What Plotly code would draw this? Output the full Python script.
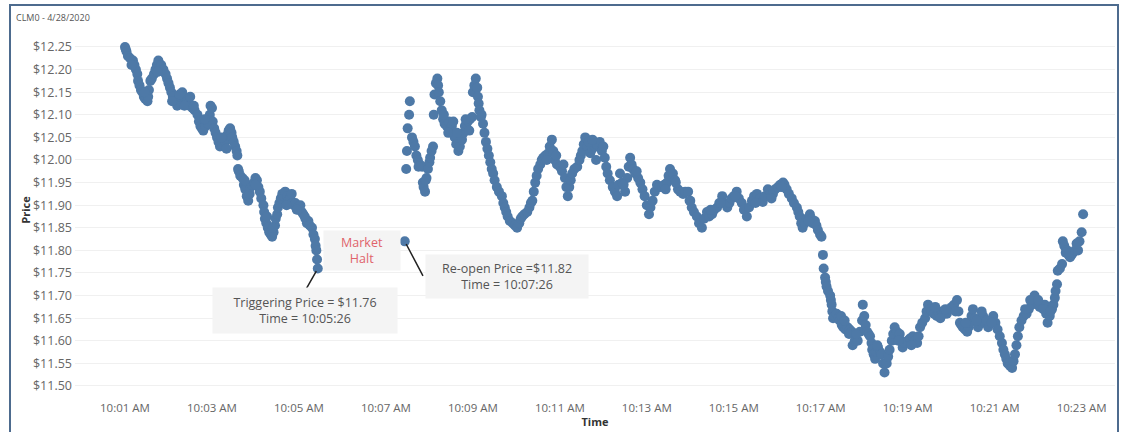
import plotly.graph_objects as go

DATE = "2020-04-28"

# ---- Data (time hh:mm:ss, price $) ----
pre_halt_times = [
    "10:01:00", "10:01:01", "10:01:02", "10:01:04", "10:01:07", "10:01:11", "10:01:13",
    "10:01:15", "10:01:17", "10:01:18", "10:01:20", "10:01:22", "10:01:24", "10:01:26",
    "10:01:28", "10:01:31", "10:01:32", "10:01:33", "10:01:35", "10:01:37", "10:01:40",
    "10:01:42", "10:01:44", "10:01:46", "10:01:48", "10:01:50", "10:01:53", "10:01:56",
    "10:01:58", "10:02:00", "10:02:02", "10:02:04", "10:02:06", "10:02:09", "10:02:12",
    "10:02:14", "10:02:16", "10:02:19", "10:02:21", "10:02:24", "10:02:26", "10:02:29",
    "10:02:33", "10:02:36", "10:02:40", "10:02:42", "10:02:44", "10:02:46", "10:02:48",
    "10:02:51", "10:02:55", "10:02:57", "10:02:58", "10:03:00", "10:03:01", "10:03:03",
    "10:03:05", "10:03:07", "10:03:09", "10:03:11", "10:03:14", "10:03:18", "10:03:21",
    "10:03:23", "10:03:25", "10:03:27", "10:03:28", "10:03:30", "10:03:32", "10:03:34",
    "10:03:35", "10:03:36", "10:03:37", "10:03:39", "10:03:42", "10:03:44", "10:03:46",
    "10:03:48", "10:03:50", "10:03:52", "10:03:53", "10:03:55", "10:03:58", "10:04:00",
    "10:04:02", "10:04:04", "10:04:06", "10:04:08", "10:04:11", "10:04:12", "10:04:13",
    "10:04:15", "10:04:17", "10:04:19", "10:04:21", "10:04:23", "10:04:25", "10:04:27",
    "10:04:28", "10:04:30", "10:04:31", "10:04:33", "10:04:35", "10:04:37", "10:04:39",
    "10:04:41", "10:04:44", "10:04:46", "10:04:48", "10:04:51", "10:04:53", "10:04:55",
    "10:04:58", "10:05:00", "10:05:02", "10:05:04", "10:05:06", "10:05:09", "10:05:11",
    "10:05:13", "10:05:15", "10:05:18", "10:05:20", "10:05:22", "10:05:23", "10:05:24",
    "10:05:25", "10:05:26",
]
pre_halt_prices = [
    12.25, 12.245, 12.24, 12.23, 12.225, 12.22, 12.21,
    12.20, 12.19, 12.175, 12.165, 12.155, 12.15, 12.14,
    12.135, 12.13, 12.14, 12.155, 12.175, 12.18, 12.19,
    12.20, 12.21, 12.22, 12.205, 12.21, 12.20, 12.19,
    12.18, 12.17, 12.16, 12.15, 12.14, 12.13, 12.12,
    12.135, 12.14, 12.15, 12.14, 12.125, 12.13, 12.12,
    12.115, 12.11, 12.10, 12.085, 12.075, 12.07, 12.065,
    12.075, 12.08, 12.10, 12.12, 12.115, 12.085, 12.07,
    12.06, 12.05, 12.04, 12.03, 12.035, 12.04, 12.055,
    12.065, 12.07, 12.06, 12.05, 12.04, 12.03, 12.02,
    12.01, 11.98, 11.975, 11.965, 11.96, 11.945, 11.935,
    11.92, 11.91, 11.925, 11.94, 11.945, 11.95, 11.96,
    11.955, 11.94, 11.93, 11.915, 11.90, 11.885, 11.87,
    11.86, 11.85, 11.84, 11.835, 11.83, 11.84, 11.855,
    11.87, 11.88, 11.895, 11.905, 11.915, 11.925, 11.92,
    11.93, 11.92, 11.91, 11.915, 11.905, 11.90, 11.905,
    11.895, 11.89, 11.90, 11.885, 11.88, 11.87, 11.86,
    11.865, 11.855, 11.85, 11.835, 11.825, 11.81, 11.80,
    11.78, 11.76,
]

post_halt_times = [
    "10:07:26", "10:07:28", "10:07:29", "10:07:30", "10:07:32", "10:07:33", "10:07:36",
    "10:07:38", "10:07:40", "10:07:42", "10:07:44", "10:07:47", "10:07:50", "10:07:51",
    "10:07:52", "10:07:54", "10:07:56", "10:07:58", "10:08:00", "10:08:01", "10:08:03",
    "10:08:05", "10:08:06", "10:08:07", "10:08:09", "10:08:11", "10:08:12", "10:08:13",
    "10:08:15", "10:08:17", "10:08:19", "10:08:21", "10:08:24", "10:08:27", "10:08:29",
    "10:08:31", "10:08:33", "10:08:35", "10:08:37", "10:08:40", "10:08:42", "10:08:45",
    "10:08:47", "10:08:49", "10:08:51", "10:08:53", "10:08:56", "10:08:59", "10:09:00",
    "10:09:02", "10:09:04", "10:09:06", "10:09:07", "10:09:08", "10:09:09", "10:09:11",
    "10:09:14", "10:09:16", "10:09:18", "10:09:20", "10:09:22", "10:09:24", "10:09:26",
    "10:09:28", "10:09:30", "10:09:33", "10:09:36", "10:09:40", "10:09:42", "10:09:44",
    "10:09:46", "10:09:48", "10:09:51", "10:09:55", "10:09:58", "10:10:01", "10:10:04",
    "10:10:06", "10:10:08", "10:10:11", "10:10:15", "10:10:18", "10:10:20", "10:10:22",
    "10:10:24", "10:10:26", "10:10:28", "10:10:30", "10:10:33", "10:10:35", "10:10:37",
    "10:10:40", "10:10:44", "10:10:46", "10:10:49", "10:10:51", "10:10:53", "10:10:56",
    "10:11:00", "10:11:03", "10:11:07", "10:11:09", "10:11:11", "10:11:13", "10:11:15",
    "10:11:17", "10:11:20", "10:11:24", "10:11:27", "10:11:29", "10:11:31", "10:11:33",
    "10:11:35", "10:11:38", "10:11:42", "10:11:45", "10:11:48", "10:11:51", "10:11:55",
    "10:11:58", "10:12:02", "10:12:04", "10:12:06", "10:12:09", "10:12:13", "10:12:16",
    "10:12:19", "10:12:21", "10:12:23", "10:12:26", "10:12:30", "10:12:33", "10:12:35",
    "10:12:37", "10:12:39", "10:12:41", "10:12:44", "10:12:48", "10:12:51", "10:12:54",
    "10:12:57", "10:13:00", "10:13:03", "10:13:05", "10:13:08", "10:13:11", "10:13:14",
    "10:13:17", "10:13:21", "10:13:24", "10:13:28", "10:13:30", "10:13:32", "10:13:36",
    "10:13:39", "10:13:43", "10:13:46", "10:13:50", "10:13:53", "10:13:57", "10:13:59",
    "10:14:02", "10:14:05", "10:14:09", "10:14:12", "10:14:16", "10:14:19", "10:14:23",
    "10:14:26", "10:14:30", "10:14:33", "10:14:37", "10:14:40", "10:14:44", "10:14:47",
    "10:14:51", "10:14:54", "10:14:57", "10:15:00", "10:15:04", "10:15:07", "10:15:11",
    "10:15:14", "10:15:18", "10:15:21", "10:15:25", "10:15:28", "10:15:32", "10:15:36",
    "10:15:40", "10:15:43", "10:15:47", "10:15:50", "10:15:54", "10:15:57", "10:16:01",
    "10:16:04", "10:16:08", "10:16:10", "10:16:13", "10:16:16", "10:16:20", "10:16:23",
    "10:16:27", "10:16:29", "10:16:31", "10:16:33", "10:16:35", "10:16:38", "10:16:41",
    "10:16:45", "10:16:47", "10:16:49", "10:16:52", "10:16:54", "10:16:56", "10:16:59",
    "10:17:01", "10:17:03", "10:17:04", "10:17:06", "10:17:07", "10:17:08", "10:17:10",
    "10:17:13", "10:17:14", "10:17:15", "10:17:16", "10:17:17", "10:17:19", "10:17:22",
    "10:17:24", "10:17:26", "10:17:29", "10:17:31", "10:17:34", "10:17:37", "10:17:40",
    "10:17:43", "10:17:44", "10:17:47", "10:17:51", "10:17:54", "10:17:57", "10:17:58",
    "10:18:00", "10:18:02", "10:18:04", "10:18:06", "10:18:08", "10:18:10", "10:18:11",
    "10:18:13", "10:18:15", "10:18:17", "10:18:19", "10:18:22", "10:18:24", "10:18:26",
    "10:18:28", "10:18:31", "10:18:33", "10:18:35", "10:18:38", "10:18:40", "10:18:42",
    "10:18:45", "10:18:49", "10:18:51", "10:18:53", "10:18:56", "10:19:00", "10:19:03",
    "10:19:07", "10:19:10", "10:19:13", "10:19:15", "10:19:17", "10:19:20", "10:19:24",
    "10:19:26", "10:19:28", "10:19:31", "10:19:33", "10:19:36", "10:19:40", "10:19:43",
    "10:19:47", "10:19:50", "10:19:54", "10:19:57", "10:20:01", "10:20:04", "10:20:08",
    "10:20:10", "10:20:12", "10:20:14", "10:20:16", "10:20:19", "10:20:22", "10:20:24",
    "10:20:26", "10:20:28", "10:20:30", "10:20:33", "10:20:37", "10:20:40", "10:20:44",
    "10:20:47", "10:20:51", "10:20:54", "10:20:58", "10:21:01", "10:21:04", "10:21:07",
    "10:21:10", "10:21:12", "10:21:14", "10:21:16", "10:21:18", "10:21:21", "10:21:24",
    "10:21:26", "10:21:28", "10:21:30", "10:21:32", "10:21:34", "10:21:37", "10:21:40",
    "10:21:44", "10:21:47", "10:21:51", "10:21:53", "10:21:55", "10:21:58", "10:22:02",
    "10:22:05", "10:22:09", "10:22:11", "10:22:13", "10:22:16", "10:22:19", "10:22:21",
    "10:22:23", "10:22:24", "10:22:26", "10:22:27", "10:22:30", "10:22:33", "10:22:34",
    "10:22:36", "10:22:40", "10:22:42", "10:22:44", "10:22:46", "10:22:48", "10:22:51",
    "10:22:55", "10:22:57", "10:23:00", "10:23:02",
]
post_halt_prices = [
    11.82, 11.98, 12.02, 12.07, 12.10, 12.13, 12.05,
    12.04, 12.03, 12.01, 12.00, 11.99, 11.985, 11.95,
    11.94, 11.93, 11.96, 11.98, 11.995, 12.005, 12.02,
    12.03, 12.10, 12.145, 12.17, 12.18, 12.165, 12.15,
    12.13, 12.11, 12.09, 12.08, 12.075, 12.085, 12.07,
    12.075, 12.06, 12.05, 12.035, 12.02, 12.03, 12.045,
    12.06, 12.075, 12.08, 12.085, 12.09, 12.095, 12.15,
    12.165, 12.18, 12.16, 12.14, 12.125, 12.11, 12.095,
    12.08, 12.06, 12.04, 12.025, 12.01, 11.995, 11.98,
    11.97, 11.955, 11.94, 11.93, 11.92, 11.905, 11.895,
    11.885, 11.875, 11.865, 11.86, 11.855, 11.85, 11.86,
    11.87, 11.875, 11.88, 11.885, 11.895, 11.905, 11.91,
    11.93, 11.95, 11.965, 11.98, 11.99, 12.00, 12.005,
    12.01, 12.015, 12.03, 12.045, 12.02, 12.00, 11.99,
    11.985, 11.975, 11.96, 11.94, 11.92, 11.94, 11.955,
    11.97, 11.98, 11.985, 12.00, 12.01, 12.02, 12.035,
    12.05, 12.03, 12.015, 12.025, 12.03, 12.035, 12.04,
    12.02, 12.005, 11.985, 11.97, 11.955, 11.94, 11.93,
    11.92, 11.945, 11.97, 11.95, 11.93, 11.96, 11.985,
    12.005, 11.99, 11.98, 11.97, 11.96, 11.95, 11.935,
    11.92, 11.90, 11.88, 11.895, 11.91, 11.93, 11.945,
    11.94, 11.94, 11.945, 11.95, 11.965, 11.98, 11.97,
    11.955, 11.935, 11.93, 11.925, 11.93, 11.93, 11.91,
    11.895, 11.885, 11.875, 11.86, 11.85, 11.87, 11.885,
    11.875, 11.88, 11.89, 11.895, 11.905, 11.92, 11.905,
    11.895, 11.905, 11.915, 11.92, 11.93, 11.915, 11.905,
    11.89, 11.875, 11.895, 11.91, 11.92, 11.925, 11.915,
    11.907, 11.92, 11.935, 11.93, 11.925, 11.935, 11.94,
    11.945, 11.95, 11.945, 11.935, 11.925, 11.915, 11.905,
    11.895, 11.885, 11.875, 11.86, 11.85, 11.86, 11.87,
    11.88, 11.87, 11.86, 11.865, 11.855, 11.845, 11.835,
    11.83, 11.79, 11.76, 11.74, 11.73, 11.72, 11.71,
    11.70, 11.69, 11.68, 11.665, 11.65, 11.655, 11.66,
    11.65, 11.645, 11.635, 11.63, 11.625, 11.63, 11.625,
    11.62, 11.59, 11.60, 11.60, 11.62, 11.645, 11.68,
    11.655, 11.635, 11.62, 11.615, 11.61, 11.595, 11.58,
    11.57, 11.56, 11.575, 11.585, 11.575, 11.57, 11.55,
    11.53, 11.55, 11.565, 11.58, 11.60, 11.615, 11.63,
    11.62, 11.615, 11.60, 11.585, 11.595, 11.60, 11.605,
    11.61, 11.60, 11.595, 11.61, 11.63, 11.64, 11.65,
    11.665, 11.68, 11.67, 11.665, 11.66, 11.655, 11.66,
    11.665, 11.66, 11.66, 11.67, 11.675, 11.68, 11.69,
    11.665, 11.64, 11.635, 11.63, 11.625, 11.62, 11.63,
    11.64, 11.655, 11.67, 11.65, 11.63, 11.645, 11.655,
    11.64, 11.63, 11.645, 11.655, 11.64, 11.625, 11.61,
    11.595, 11.58, 11.57, 11.56, 11.55, 11.545, 11.54,
    11.555, 11.57, 11.59, 11.61, 11.63, 11.645, 11.655,
    11.66, 11.67, 11.68, 11.69, 11.70, 11.685, 11.675,
    11.68, 11.68, 11.66, 11.64, 11.655, 11.67, 11.68,
    11.695, 11.71, 11.725, 11.755, 11.76, 11.77, 11.82,
    11.81, 11.80, 11.79, 11.785, 11.79, 11.795, 11.80,
    11.80, 11.82, 11.84, 11.88,
]

# Extra trades that make the thicker clusters seen in the chart
cluster_times = [
    "10:01:09", "10:01:27", "10:01:45", "10:02:05", "10:02:15", "10:02:22", "10:02:30",
    "10:02:35", "10:02:50", "10:03:13", "10:03:20", "10:03:45", "10:04:00", "10:04:16",
    "10:04:24", "10:04:43", "10:04:50", "10:04:57", "10:05:08",
    "10:07:45", "10:07:55", "10:08:20", "10:08:26", "10:08:33", "10:08:38", "10:08:50",
    "10:08:55", "10:09:12", "10:10:42", "10:10:55", "10:11:05", "10:11:40", "10:11:45",
    "10:11:50", "10:12:00", "10:12:28", "10:12:46", "10:13:26", "10:13:40", "10:14:00",
    "10:14:28", "10:14:42", "10:15:02", "10:15:30", "10:15:52", "10:16:06", "10:16:43",
    "10:17:28", "10:17:33", "10:17:39", "10:17:49", "10:18:18", "10:18:47", "10:19:05",
    "10:19:38", "10:19:45", "10:19:52", "10:20:06", "10:20:20", "10:20:35", "10:20:42",
    "10:20:49", "10:20:56", "10:21:42", "10:21:49", "10:22:00", "10:22:07", "10:22:17",
    "10:22:38", "10:22:53",
]
cluster_prices = [
    12.21, 12.15, 12.195, 12.13, 12.145, 12.12, 12.14,
    12.12, 12.09, 12.05, 12.025, 11.955, 11.945, 11.875,
    11.85, 11.90, 11.925, 11.89, 11.875,
    11.985, 11.955, 12.10, 12.06, 12.085, 12.06, 12.09,
    12.065, 12.10, 12.00, 12.01, 11.99, 12.04, 12.045,
    12.00, 12.03, 11.945, 11.975, 11.935, 11.95, 11.91,
    11.89, 11.905, 11.92, 11.905, 11.915, 11.94, 11.865,
    11.655, 11.645, 11.615, 11.615, 11.59, 11.60, 11.59,
    11.675, 11.65, 11.67, 11.665, 11.64, 11.645, 11.665,
    11.645, 11.64, 11.67, 11.69, 11.69, 11.67, 11.665,
    11.795, 11.815,
]

x_tick_times = ["10:01", "10:03", "10:05", "10:07", "10:09", "10:11",
                "10:13", "10:15", "10:17", "10:19", "10:21", "10:23"]
y_tick_values = [11.50, 11.55, 11.60, 11.65, 11.70, 11.75, 11.80, 11.85,
                 11.90, 11.95, 12.00, 12.05, 12.10, 12.15, 12.20, 12.25]

trigger_time, trigger_price = pre_halt_times[-1], pre_halt_prices[-1]
reopen_time, reopen_price = post_halt_times[0], post_halt_prices[0]

# ---- Build figure ----
def ts(t):
    return f"{DATE} {t}"

times = [ts(t) for t in pre_halt_times + post_halt_times + cluster_times]
prices = pre_halt_prices + post_halt_prices + cluster_prices

FONT = "Open Sans"
BLUE = "#4e79a7"

fig = go.Figure()
fig.add_trace(go.Scatter(
    x=times, y=prices, mode="markers",
    marker=dict(color=BLUE, size=10, line=dict(width=0)),
    showlegend=False,
))

W, H = 1126, 432
ML, MR, MT, MB = 75, 11, 28, 40
PW, PH = W - ML - MR, H - MT - MB

def px_to_paper_x(px):
    return (px - ML) / PW

def px_to_paper_y(py):
    return (H - MB - py) / PH

fig.update_layout(
    width=W, height=H,
    margin=dict(l=ML, r=MR, t=MT, b=MB, autoexpand=False),
    paper_bgcolor="white", plot_bgcolor="white",
    font=dict(family=FONT, size=11, color="#666666"),
    xaxis=dict(
        type="date", automargin=False,
        range=[ts("09:59:51"), ts("10:23:46")],
        tickvals=[ts(t + ":00") for t in x_tick_times],
        ticktext=[f"{t} AM" for t in x_tick_times],
        showgrid=False, zeroline=False, showline=False,
        ticks="", ticklabelstandoff=7,
        tickfont=dict(size=11.5, color="#666666"),
        title=dict(text="<b>Time</b>", font=dict(size=11, color="#333333"), standoff=3),
    ),
    yaxis=dict(
        automargin=False,
        range=[11.4867, 12.292],
        tickvals=y_tick_values,
        ticktext=[f"${v:.2f}" for v in y_tick_values],
        showgrid=True, gridcolor="#f0f0f0", gridwidth=1,
        zeroline=False, showline=False, ticks="",
        ticklabelstandoff=2,
        tickfont=dict(size=12.5, color="#666666"),
        title=dict(text="<b>Price</b>", font=dict(size=11, color="#333333"), standoff=0),
    ),
)

BOX_BG = "#f4f4f4"
TEXT_C = "#555555"
LINE_C = "#222222"

halt_mid_time = "10:06:27"

annotations = [
    dict(text="CLM0 - 4/28/2020", xref="paper", yref="paper",
         x=px_to_paper_x(14), y=px_to_paper_y(17), xanchor="left", yanchor="middle",
         showarrow=False, font=dict(size=9, color="#555555")),
    dict(text="Market<br>Halt", xref="x", yref="y",
         x=ts(halt_mid_time), y=11.80,
         showarrow=False, font=dict(size=12.5, color="#e0636b"),
         bgcolor=BOX_BG, width=74, height=37),
    # triggering price callout
    dict(text="", xref="x", yref="y", x=ts(trigger_time), y=trigger_price,
         showarrow=True, arrowhead=0, arrowwidth=1.5, arrowcolor=LINE_C,
         ax=-13, ay=23, standoff=3),
    dict(text=f"Triggering Price = ${trigger_price:.2f}<br>Time = {trigger_time}",
         xref="x", yref="y", x=ts(trigger_time), y=trigger_price,
         showarrow=False, xshift=-13, yshift=-42,
         font=dict(size=12.5, color=TEXT_C), bgcolor=BOX_BG, width=182, height=43),
    # re-open price callout
    dict(text="", xref="x", yref="y", x=ts(reopen_time), y=reopen_price,
         showarrow=True, arrowhead=0, arrowwidth=1.5, arrowcolor=LINE_C,
         ax=19, ay=36, standoff=3),
    dict(text=f"Re-open Price =${reopen_price:.2f}<br>Time = {reopen_time}",
         xref="x", yref="y", x=ts(reopen_time), y=reopen_price,
         showarrow=False, xshift=102, yshift=-35,
         font=dict(size=12.5, color=TEXT_C), bgcolor=BOX_BG, width=160, height=41),
]
fig.update_layout(annotations=annotations)

fig.add_shape(type="rect", xref="paper", yref="paper",
              x0=px_to_paper_x(10), x1=px_to_paper_x(1118),
              y0=px_to_paper_y(445), y1=px_to_paper_y(5),
              line=dict(color="#4d6b8e", width=2), fillcolor="rgba(0,0,0,0)",
              layer="above")

fig.write_html("out.html",
               config={"displayModeBar": False},
               post_script="document.body.style.margin='0';document.body.style.overflow='hidden';")
